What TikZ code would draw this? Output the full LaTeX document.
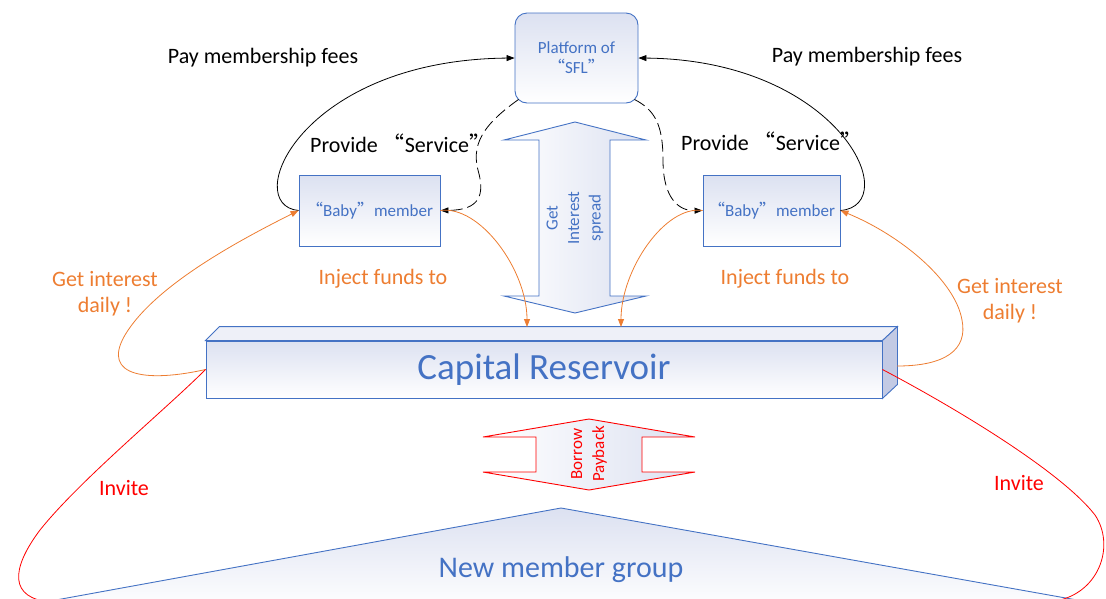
\documentclass[tikz,border=0pt]{standalone}
\usepackage{fontspec}
\setmainfont{Carlito}
\newfontfamily\cjk{Noto Sans CJK SC}
\usetikzlibrary{arrows.meta}
\definecolor{bl}{HTML}{4472C4}
\definecolor{og}{HTML}{ED7D31}
\definecolor{rd}{HTML}{FF0000}
\definecolor{lf}{HTML}{DCE1F1}
\definecolor{tf}{HTML}{EEF0F8}
\definecolor{sf}{HTML}{C3CAE4}
\newcommand{\myoq}{{\cjk “}}
\newcommand{\mycq}{{\cjk ”}}
\begin{document}
\begin{tikzpicture}[x=1pt,y=-1pt,
  boxs/.style={draw=bl, line width=0.9pt, top color=lf, bottom color=white, text=bl, align=center, inner sep=0pt},
  lbl/.style={font=\fontsize{22}{26}\selectfont, align=center, inner sep=0pt},
  small/.style={font=\fontsize{17}{20}\selectfont},
  arr/.style={-{Triangle[length=8pt,width=6pt]}},
  conn/.style={line width=0.8pt},
  dashconn/.style={line width=0.8pt, dash pattern=on 12pt off 5pt}]
\useasboundingbox (0,0) rectangle (1106,598);
\clip (0,0) rectangle (1106,598);

% new member group
\draw[draw=bl, line width=0.9pt, top color=lf, bottom color=white] (561,508) -- (1133,610) -- (1,610) -- cycle;
\node[text=bl, font=\fontsize{30}{34}\selectfont] (nm) at (561,570) {New member group};

% big double arrow
\draw[draw=bl, line width=0.9pt, left color=white, right color=lf]
  (575,122) -- (646,140) -- (610,140) -- (610,296) -- (646,296) -- (575,313)
  -- (504,296) -- (539,296) -- (539,140) -- (504,140) -- cycle;
\node[text=bl, rotate=90, align=center, font=\fontsize{17}{21.5}\selectfont] (gis) at (575,218) {Get\\Interest\\spread};

% borrow / payback
\draw[draw=rd, line width=0.9pt, left color=white, right color=lf]
  (589,419) -- (695,437) -- (642,437) -- (642,472) -- (695,472) -- (589,490)
  -- (483,472) -- (536,472) -- (536,437) -- (483,437) -- cycle;
\node[text=rd, rotate=90, align=center, font=\fontsize{17}{22}\selectfont] (bp) at (589,454) {Borrow\\Payback};

% capital reservoir
\node[boxs, minimum width=676pt, minimum height=57pt, font=\fontsize{37}{40}\selectfont] (cr) at (544,369.5) {Capital Reservoir};
\draw[draw=bl, line width=0.9pt, fill=tf] (cr.north west) -- ++(14,-14) -- ([shift={(15,-14)}]cr.north east) -- (cr.north east) -- cycle;
\draw[draw=bl, line width=0.9pt, fill=sf] (cr.north east) -- ++(15,-14) -- ([shift={(15,-14)}]cr.south east) -- (cr.south east) -- cycle;
\coordinate (crr) at (897,366);
\coordinate (injL) at (527,327);
\coordinate (injR) at (621,327);

% platform and members
\node[boxs, rounded corners=12pt, minimum width=123pt, minimum height=90pt, font=\fontsize{17}{20}\selectfont] (pf) at (576.5,58) {Platform of\\\myoq SFL\mycq};
\node[boxs, minimum width=141pt, minimum height=71pt, font=\fontsize{17}{20}\selectfont] (lb) at (369.5,210.5) {\myoq Baby\mycq member};
\node[boxs, minimum width=137pt, minimum height=71pt, font=\fontsize{17}{20}\selectfont] (rb) at (771.5,210.5) {\myoq Baby\mycq member};

% labels
\node[lbl] (pmL) at (263,58) {Pay membership fees};
\node[lbl] (pmR) at (867,57) {Pay membership fees};
\node[lbl, anchor=west] (psL) at (310,143) {Provide \myoq Service\mycq};
\node[lbl, anchor=west] (psR) at (681,141) {Provide \myoq Service\mycq};
\node[lbl, text=og] (ijL) at (383,279) {Inject funds to};
\node[lbl, text=og] (ijR) at (785,279) {Inject funds to};
\node[lbl, text=og] (giL) at (105,294) {Get interest\\daily !};
\node[lbl, text=og] (giR) at (1010,301) {Get interest\\daily !};
\node[lbl, text=rd] (ivL) at (124,488) {Invite};
\node[lbl, text=rd] (ivR) at (1019,483) {Invite};

% black connectors
\draw[conn, arr] (lb.west) .. controls (240,205) and (300,60) .. (pf.west);
\draw[conn, arr] (rb.east) .. controls (905,205) and (840,60) .. (pf.east);
\draw[dashconn, arr] ([shift={(4,-4)}]pf.south west) .. controls (490,120) and (470,140) .. (478,170) .. controls (485,195) and (480,210) .. (lb.east);
\draw[dashconn, arr] ([shift={(-4,-4)}]pf.south east) .. controls (655,110) and (663,125) .. (663,160) .. controls (663,200) and (680,211) .. (rb.west);

% orange connectors
\draw[conn, og, arr] (lb.east) .. controls (480,205) and (527,270) .. (injL);
\draw[conn, og, arr] (rb.west) .. controls (665,205) and (621,270) .. (injR);
\draw[conn, og, arr] (cr.west) .. controls (150,382) and (100,378) .. (125,335) .. controls (155,285) and (240,240) .. (lb.west);
\draw[conn, og, arr] (crr) .. controls (945,366) and (968,350) .. (962,320) .. controls (955,280) and (900,235) .. (rb.east);

% red connectors
\draw[conn, rd] (cr.west) .. controls (165,410) and (80,480) .. (40,530) .. controls (10,570) and (10,598) .. (50,602);
\draw[conn, rd] (cr.east) .. controls (950,405) and (1060,470) .. (1095,515) .. controls (1115,545) and (1100,590) .. (1060,600);
\end{tikzpicture}
\end{document}
